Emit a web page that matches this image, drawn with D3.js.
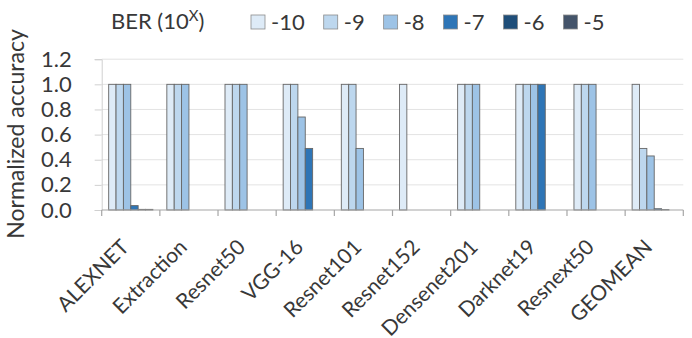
<!DOCTYPE html>
<html>
<head>
<meta charset="utf-8">
<script src="https://cdn.jsdelivr.net/npm/d3@7"></script>
<style>
  body { margin: 0; background: #fff; }
  svg { display: block; font-family: Lato, "Open Sans", sans-serif; }
</style>
</head>
<body>
<div id="chart"></div>
<script>
// categories (networks) and series (BER exponents)
const networks = ["ALEXNET", "Extraction", "Resnet50", "VGG-16", "Resnet101",
  "Resnet152", "Densenet201", "Darknet19", "Resnext50", "GEOMEAN"];
const berLevels = ["-10", "-9", "-8", "-7", "-6", "-5"];
const berColors = ["#deebf7", "#bdd7ee", "#9dc3e6", "#2e75b6", "#1f4e79", "#44546a"];

// normalized accuracy per BER level, one value per network
const ber10 = [1, 1, 1, 1, 1, 1, 1, 1, 1, 1];
const ber9  = [1, 1, 1, 1, 1, 0, 1, 1, 1, 0.49];
const ber8  = [1, 1, 1, 0.74, 0.49, 0, 1, 1, 1, 0.43];
const ber7  = [0.035, 0, 0, 0.49, 0, 0, 0, 1, 0, 0.01];
const ber6  = [0.005, 0, 0, 0, 0, 0, 0, 0, 0, 0.003];
const ber5  = [0.005, 0, 0, 0, 0, 0, 0, 0, 0, 0];
const seriesValues = [ber10, ber9, ber8, ber7, ber6, ber5];

const yTicks = [0, 0.2, 0.4, 0.6, 0.8, 1.0, 1.2];

const width = 692, height = 338;
const plotLeft = 101.7, plotRight = 683.3, plotBottom = 210, plotTop = 59.2;
const textColor = "#383838";

const svg = d3.select("#chart").append("svg")
  .attr("width", width)
  .attr("height", height);

const x0 = d3.scaleBand()
  .domain(networks)
  .range([plotLeft, plotRight])
  .paddingInner(0.24)
  .paddingOuter(0.12);

const x1 = d3.scaleBand()
  .domain(berLevels)
  .range([0, x0.bandwidth()]);

const y = d3.scaleLinear()
  .domain([0, 1.2])
  .range([plotBottom, plotTop]);

// gridlines
svg.append("g")
  .selectAll("line")
  .data(yTicks.slice(1))
  .join("line")
  .attr("x1", plotLeft)
  .attr("x2", plotRight)
  .attr("y1", d => y(d))
  .attr("y2", d => y(d))
  .style("stroke", "#e3e3e3")
  .style("stroke-width", 1);

// value axis: faint line with ticks, labels on the left
const yAxis = svg.append("g")
  .attr("transform", `translate(${plotLeft},0)`)
  .call(d3.axisLeft(y).tickValues(yTicks).tickSize(7).tickFormat(d3.format(".1f")));
yAxis.select(".domain").style("stroke", "#d0d0d0");
yAxis.selectAll(".tick line").style("stroke", "#d0d0d0");
yAxis.selectAll(".tick text")
  .attr("x", -30)
  .style("font-family", "Lato, 'Open Sans', sans-serif")
  .style("font-size", "22px")
  .style("fill", textColor);

// y title
svg.append("text")
  .attr("transform", `translate(24,${(20 + 248) / 2}) rotate(-90)`)
  .attr("text-anchor", "middle")
  .style("font-size", "23px")
  .style("fill", textColor)
  .text("Normalized accuracy");

// bars
const groups = svg.append("g")
  .selectAll("g")
  .data(networks)
  .join("g")
  .attr("transform", d => `translate(${x0(d)},0)`);

groups.selectAll("rect")
  .data((d, i) => berLevels.map((b, j) => ({ level: b, value: seriesValues[j][i], color: berColors[j] })))
  .join("rect")
  .attr("x", d => x1(d.level))
  .attr("y", d => y(d.value))
  .attr("width", x1.bandwidth())
  .attr("height", d => plotBottom - y(d.value))
  .style("fill", d => d.color)
  .style("stroke", d => d.value > 0 ? "#666" : "none")
  .style("stroke-width", 0.9);

// category axis
const step = x0.step();
const boundaries = networks.map(d => x0(d) - step * x0.paddingInner() / 2).concat([plotRight]);

svg.append("line")
  .attr("x1", plotLeft).attr("x2", plotRight)
  .attr("y1", plotBottom).attr("y2", plotBottom)
  .style("stroke", "#a6a6a6")
  .style("stroke-width", 1.2);

svg.append("g")
  .selectAll("line")
  .data(boundaries)
  .join("line")
  .attr("x1", d => d).attr("x2", d => d)
  .attr("y1", plotBottom).attr("y2", plotBottom + 6)
  .style("stroke", "#a6a6a6")
  .style("stroke-width", 1.2);

svg.append("g")
  .selectAll("text")
  .data(networks)
  .join("text")
  .attr("transform", d => `translate(${x0(d) + x0.bandwidth() / 2 - 8},${plotBottom + 31}) rotate(-45)`)
  .attr("text-anchor", "end")
  .attr("dy", "0.5em")
  .style("font-size", "21px")
  .style("fill", textColor)
  .text(d => d);

// legend
const legend = svg.append("g");

const title = legend.append("text")
  .attr("x", 111)
  .attr("y", 29)
  .style("font-size", "22px")
  .style("fill", textColor);
title.append("tspan").text("BER (10");
title.append("tspan").attr("dy", -8).style("font-size", "15px").text("X");
title.append("tspan").attr("dy", 8).text(")");

let lx = 251;
berLevels.forEach((b, i) => {
  legend.append("rect")
    .attr("x", lx)
    .attr("y", 15)
    .attr("width", 14)
    .attr("height", 14)
    .style("fill", berColors[i])
    .style("stroke", "#8c8c8c")
    .style("stroke-width", 0.8);
  const t = legend.append("text")
    .attr("x", lx + 20)
    .attr("y", 30)
    .style("font-size", "22px")
    .style("fill", textColor)
    .text(b);
  lx += 20 + t.node().getComputedTextLength() + 19;
});
</script>
</body>
</html>
